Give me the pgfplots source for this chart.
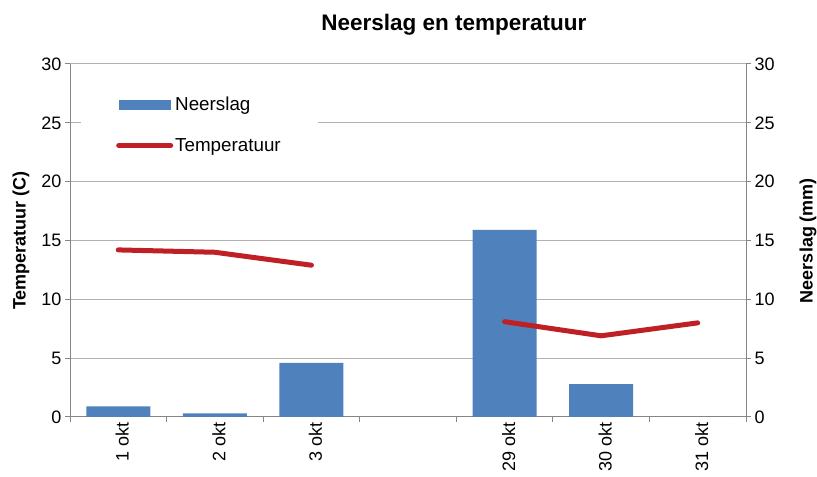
\documentclass[border=0pt]{standalone}
\usepackage{fontspec}
\setmainfont{Liberation Sans}
\usepackage{pgfplots}
\pgfplotsset{compat=1.18}
\definecolor{barblue}{RGB}{79,129,189}
\definecolor{linered}{RGB}{190,32,38}
\definecolor{gridc}{RGB}{178,178,178}
\definecolor{axisc}{RGB}{134,134,134}
\newcommand{\fs}{\fontsize{18bp}{21bp}\selectfont}

\pgfplotstableread{
x rain temp
0 0.9 14.2
1 0.3 14.0
2 4.6 12.9
3 0 nan
4 15.9 8.1
5 2.8 6.9
6 0 8.0
}\data

\pgfplotsset{
  common/.style={
    at={(70bp,60bp)}, anchor=south west,
    scale only axis, width=676bp, height=353bp,
    xmin=-0.5, xmax=6.5, ymin=0, ymax=30,
    ytick={0,5,...,30},
    tick align=outside,
    major tick length=5bp, minor tick length=5bp,
    axis line style={axisc, line width=1bp},
    ytick style={axisc, line width=1bp},
    yticklabel style={font=\fs},
    /pgf/number format/assume math mode=true,
  },
  barleg/.style={legend image code/.code={\fill[##1] (0bp,-5bp) rectangle (52bp,5bp);}},
  lineleg/.style={legend image code/.code={\draw[##1] (0bp,0bp) -- (52bp,0bp);}},
}

\begin{document}
\begin{tikzpicture}
\path[use as bounding box] (0,0) rectangle (817bp,477bp);
\begin{axis}[common,
  axis x line*=bottom, axis y line*=right,
  ymajorgrids, grid style={gridc, line width=1bp},
  xtick={0,...,6},
  xticklabels={1 okt,2 okt,3 okt,{},29 okt,30 okt,31 okt},
  minor xtick={-0.5,0.5,...,6.5},
  major x tick style={draw=none},
  minor x tick style={axisc, line width=1bp},
  xticklabel style={font=\fs, rotate=90, anchor=east, inner sep=0pt, yshift=-4bp},
  ylabel={\bfseries Neerslag (mm)},
  ylabel style={font=\fs, at={(axis description cs:1.0917,0.5)}, anchor=center},
  title={\bfseries Neerslag en temperatuur},
  title style={font=\fontsize{22.5bp}{26bp}\selectfont, at={(axis description cs:0.5678,1.093)}, anchor=center},
]
\addplot[ybar, bar width=64bp, fill=barblue, draw=none] table[x=x, y=rain]{\data};
\end{axis}
\begin{axis}[common,
  axis y line*=left, axis x line=none,
  ylabel={\bfseries Temperatuur (C)},
  ylabel style={font=\fs, at={(axis description cs:-0.0725,0.5)}, anchor=center},
  unbounded coords=jump,
  legend style={at={(axis description cs:0.0163,0.9405)}, anchor=north west,
    draw=none, fill=white, inner xsep=35bp, inner ysep=10bp,
    font=\fontsize{18.8bp}{22bp}\selectfont,
    row sep=22bp, cells={anchor=west},
    nodes={inner sep=2bp}},
]
\addlegendimage{barblue, fill=barblue, draw=none, barleg}
\addplot[linered, line width=5bp, line cap=round, line join=round, lineleg]
  table[x=x, y=temp]{\data};
\legend{Neerslag, Temperatuur}
\end{axis}
\end{tikzpicture}
\end{document}
